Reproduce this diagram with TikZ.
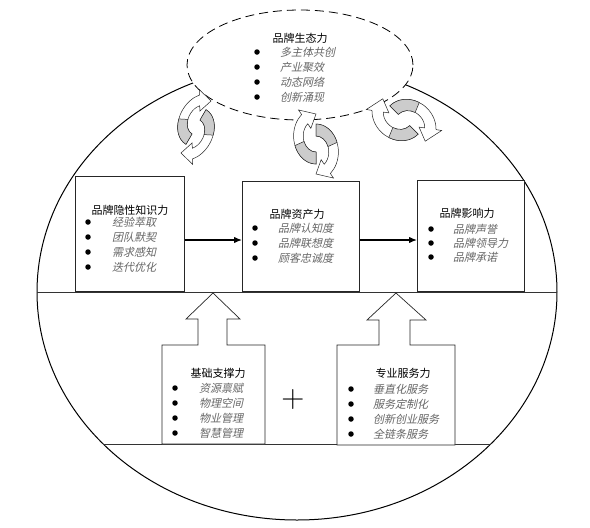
\documentclass[tikz,border=0pt]{standalone}
\usepackage{fontspec}
\newfontfamily\cjk{Noto Sans CJK SC}
\newfontfamily\cjkit[FakeSlant=0.22]{Noto Sans CJK SC}
\usetikzlibrary{arrows.meta,shapes.geometric}

\tikzset{
	titre/.style={font=\cjk\fontsize{11}{13}\selectfont,inner sep=0pt},
	item/.style={font=\cjkit\fontsize{11}{13}\selectfont,text=black!60,anchor=west,inner sep=0pt},
	puce/.style={circle,fill=black,inner sep=0pt,minimum size=5.5pt},
	boite/.style={draw=black!85,line width=0.7pt,fill=white,anchor=south west,inner sep=0pt},
	fleche/.style={-{Latex[length=8pt,width=6.5pt]},line width=1.3pt},
	support/.style={draw=black!85,line width=0.7pt,fill=white},
	ruban/.style={line width=0.5pt,draw=black!85},
}
\newcommand\demiruban[3]{\filldraw[ruban,fill=white](#1:28) arc[start angle=#1,end angle=#2,radius=28]--(#2:34)--({#2-40}:22)--(#2:10)--(#2:16) arc[start angle=#2,end angle=#1,radius=16]--cycle;
	\filldraw[ruban,fill=black!20](#1:28) arc[start angle=#1,end angle=#3,radius=28]--(#3:16) arc[start angle=#3,end angle=#1,radius=16]--cycle;}
\newcommand\cycleicone[4]{\begin{scope}[shift={(#1,-#2)},rotate=#3,xscale=#4]
		\begin{scope}[yshift=-8]\demiruban{90}{-50}{20}\end{scope}
		\begin{scope}[yshift=8]\demiruban{270}{130}{200}\end{scope}
	\end{scope}}

\begin{document}
\begin{tikzpicture}[x=1pt,y=1pt]
	\useasboundingbox (0,0) rectangle (590,-528);
	\draw[line width=1pt] (297,-292) ellipse [x radius=260,y radius=228];
	\draw[line width=1pt,black!80] (37,-292)--(557,-292);
	\draw[line width=1pt,black!80] (103,-444)--(491,-444);
	\node[boite,minimum width=109pt,minimum height=115pt] (savoir) at (75,-292) {};
	\node[boite,minimum width=117pt,minimum height=110pt] (actif) at (242,-292) {};
	\node[boite,minimum width=107pt,minimum height=111pt] (impact) at (417,-292) {};
	\coordinate (niveau) at (0,-240);
	\draw[fleche] (savoir.east|-niveau)--(actif.west|-niveau);
	\draw[fleche] (actif.east|-niveau)--(impact.west|-niveau);
	\draw[support] (162,-444)--(162,-345)--(198,-345)--(198,-319)--(186,-319)--(213,-293)--(240,-319)--(227,-319)--(227,-345)--(265,-345)--(265,-444)--cycle;
	\draw[support] (337,-445)--(337,-345)--(379,-345)--(379,-320)--(367,-320)--(396,-293)--(426,-320)--(410,-320)--(410,-345)--(455,-345)--(455,-445)--cycle;
	\node[ellipse,draw,fill=white,dash pattern=on 9pt off 5pt,line width=0.8pt,minimum width=226pt,minimum height=110pt,inner sep=0pt] (eco) at (300,-65) {};
	\cycleicone{196}{127}{-30}{0.72}
	\cycleicone{316}{144}{0}{0.8}
	\cycleicone{404}{120}{45}{0.88}
	\node[titre] (eco-titre) at (300,-38) {品牌生态力};
	\foreach \i/\t in {1/多主体共创,2/产业聚效,3/动态网络,4/创新涌现}{\node[puce] (eco-p\i) at (257,-37-15*\i) {};\node[item] (eco-t\i) at (280,-37-15*\i) {\t};}
	\node[titre] (savoir-titre) at (130,-210) {品牌隐性知识力};
	\foreach \i/\t in {1/经验萃取,2/团队默契,3/需求感知,4/迭代优化}{\node[puce] (savoir-p\i) at (88,-207-15*\i) {};\node[item] (savoir-t\i) at (112,-207-15*\i) {\t};}
	\node[titre] (actif-titre) at (297,-214) {品牌资产力};
	\foreach \i/\t in {1/品牌认知度,2/品牌联想度,3/顾客忠诚度}{\node[puce] (actif-p\i) at (255,-213-15*\i) {};\node[item] (actif-t\i) at (278,-213-15*\i) {\t};}
	\node[titre] (impact-titre) at (467,-213) {品牌影响力};
	\foreach \i/\t in {1/品牌声誉,2/品牌领导力,3/品牌承诺}{\node[puce] (impact-p\i) at (431,-215-14*\i) {};\node[item] (impact-t\i) at (453,-215-14*\i) {\t};}
	\node[titre] (base-titre) at (218,-373) {基础支撑力};
	\foreach \i/\t in {1/资源禀赋,2/物理空间,3/物业管理,4/智慧管理}{\node[puce] (base-p\i) at (175,-373-15*\i) {};\node[item] (base-t\i) at (199,-373-15*\i) {\t};}
	\node[titre] (service-titre) at (403,-373) {专业服务力};
	\foreach \i/\t in {1/垂直化服务,2/服务定制化,3/创新创业服务,4/全链条服务}{\node[puce] (service-p\i) at (351,-374-15*\i) {};\node[item] (service-t\i) at (373,-374-15*\i) {\t};}
	\node[font=\fontsize{32}{32}\selectfont] (plus) at (293,-400) {+};
\end{tikzpicture}
\end{document}
